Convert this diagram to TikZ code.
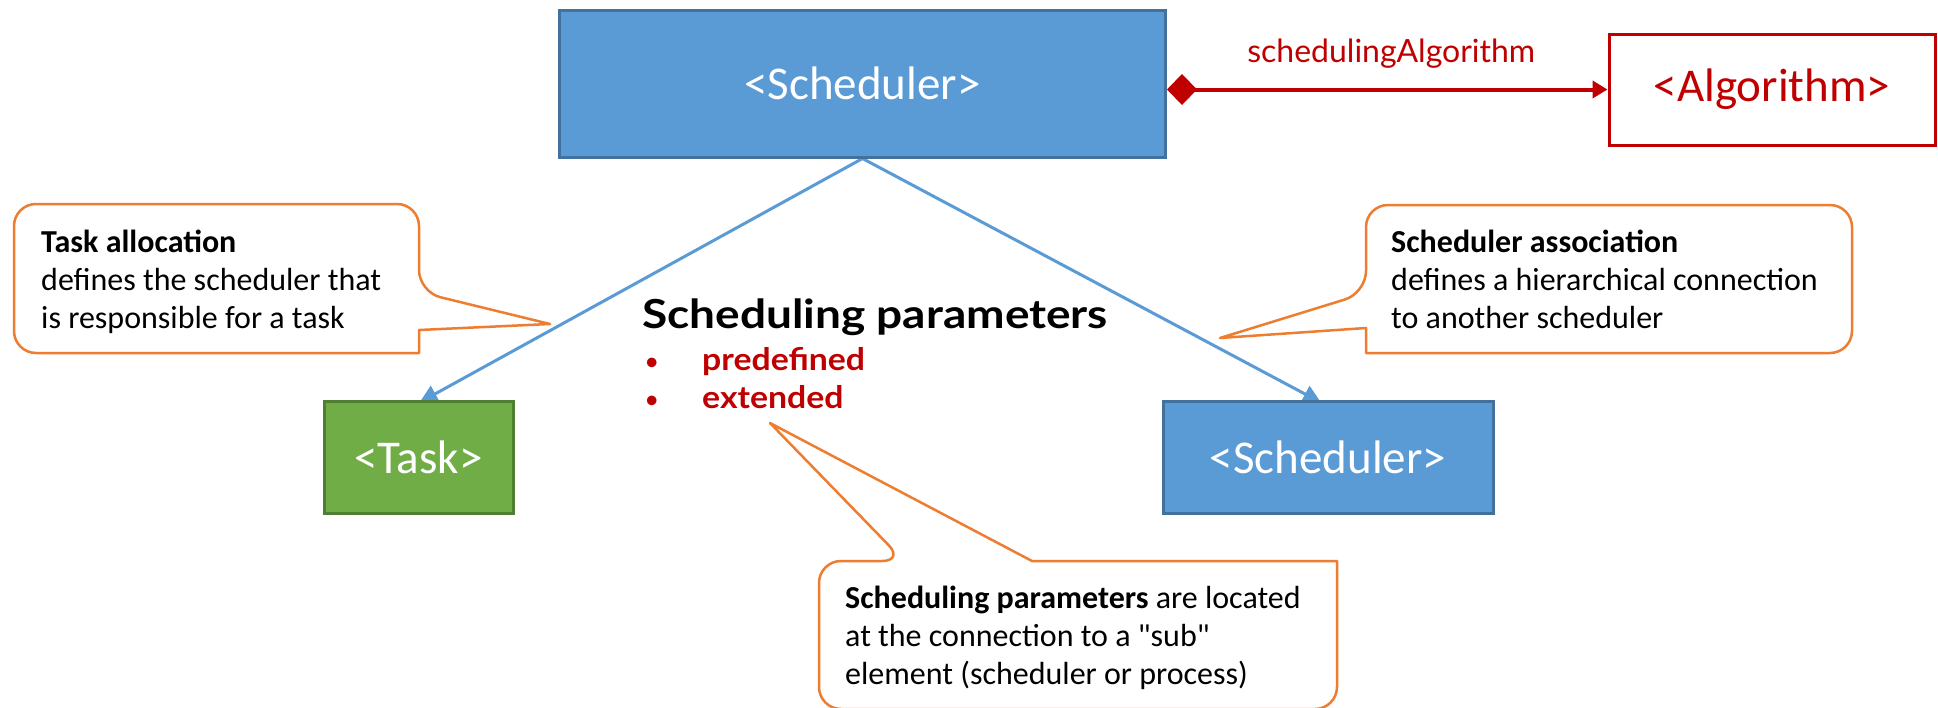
\documentclass[tikz,border=0pt]{standalone}
\usepackage{fontspec}
\setmainfont{Carlito}
\newfontfamily\latofont{Lato}
\newfontfamily\latohead[FakeStretch=1.15]{Lato}
\newfontfamily\latolist[FakeStretch=1.09]{Lato}
\newfontfamily\carlitoplain[Ligatures=TeXOff]{Carlito}
\usetikzlibrary{arrows.meta,calc,backgrounds}
\definecolor{blueF}{HTML}{5B9BD5}
\definecolor{blueD}{HTML}{41719C}
\definecolor{greenF}{HTML}{70AD47}
\definecolor{greenD}{HTML}{507E32}
\definecolor{redC}{HTML}{C00000}
\definecolor{orangeC}{HTML}{ED7D31}
\newcommand{\smallbullet}{\makebox[57pt][l]{\normalfont\fontsize{27}{27}\selectfont •}}
\newcommand{\straightq}{{\carlitoplain\symbol{34}}}
\begin{document}
\begin{tikzpicture}[x=1pt,y=-1pt,
  box/.style={draw, line width=3pt, inner sep=0pt, text=white,
    font=\fontsize{47}{56}\selectfont},
  bluebox/.style={box, fill=blueF, draw=blueD},
  greenbox/.style={box, fill=greenF, draw=greenD},
  algobox/.style={box, fill=white, draw=redC, text=redC},
  conn/.style={draw=blueF, line width=3pt, -{Triangle[length=18pt,width=18pt]}},
  comp/.style={draw=redC, line width=4pt,
    {Diamond[length=30pt,width=31pt]}-{Triangle[length=15pt,width=17pt]}},
  callout/.style={draw=orangeC, line width=2.5pt, fill=white, line join=round},
  ctext/.style={anchor=base west, inner sep=0pt, align=left,
    font=\fontsize{32}{38}\selectfont},
]
\clip (0,0) rectangle (1938,707);

% boxes
\node[bluebox, minimum width=606pt, minimum height=147pt] (sched) at (862.5,83.5) {<Scheduler>};
\node[algobox, minimum width=326pt, minimum height=111pt] (algo) at (1772,89.5) {<Algorithm>};
\node[greenbox, minimum width=189pt, minimum height=112pt] (task) at (418.5,457) {<Task>};
\node[bluebox, minimum width=330pt, minimum height=112pt] (sched2) at (1328,457) {<Scheduler>};

% connectors (behind boxes)
\begin{pgfonlayer}{background}
  \fill[white] (0,0) rectangle (1938,707);
  \draw[conn] (sched.south) -- ($(task.north)+(1,3)$);
  \draw[conn] (sched.south) -- ($(sched2.north)+(-7,3)$);
\end{pgfonlayer}

% composition
\coordinate (cstart) at (sched.east |- algo.west);
\draw[comp] (cstart) -- (algo.west)
  node[midway, anchor=base, yshift=27pt, xshift=4pt, text=redC, inner sep=0pt,
       font=\latofont\fontsize{32}{38}\selectfont] (alglabel) {schedulingAlgorithm};

% scheduling parameters
\node[anchor=base west, inner sep=0pt, font=\latohead\bfseries\fontsize{40}{48}\selectfont]
  (params) at (642,328) {Scheduling parameters};
\node[anchor=base west, inner sep=0pt, text=redC, font=\latolist\bfseries\fontsize{31}{38}\selectfont]
  (plist) at (645,370) {\vtop{\hbox{\smallbullet predefined}\hbox{\smallbullet extended}}};

% callout: task allocation
\draw[callout] (550,324) -- (419,330) -- (419,353) [rounded corners=22pt] -- (14,353)
  -- (14,204) -- (419,204) -- (419,292) [sharp corners] -- cycle;
\node[ctext] (tatext) at (41,252)
  {\vtop{\hbox{\bfseries Task allocation}\hbox{defines the scheduler that}\hbox{is responsible for a task}}};

% callout: scheduler association
\draw[callout] (1220,338) -- (1366,328) -- (1366,353) [rounded corners=22pt] -- (1852,353)
  -- (1852,205) -- (1366,205) -- (1366,293) [sharp corners] -- cycle;
\node[ctext] (satext) at (1391,252)
  {\vtop{\hbox{\bfseries Scheduler association}\hbox{defines a hierarchical connection}\hbox{to another scheduler}}};

% callout: scheduling parameters location
\draw[callout] (770,423) -- (1032,561) -- (1337,561) [rounded corners=22pt] -- (1337,709)
  -- (819,709) -- (819,561) -- (904,561) [sharp corners] -- cycle;
\node[ctext] (sptext) at (845,608)
  {\vtop{\hbox{\textbf{Scheduling parameters} are located}\hbox{at the connection to a \straightq sub\straightq}\hbox{element (scheduler or process)}}};
\end{tikzpicture}
\end{document}
